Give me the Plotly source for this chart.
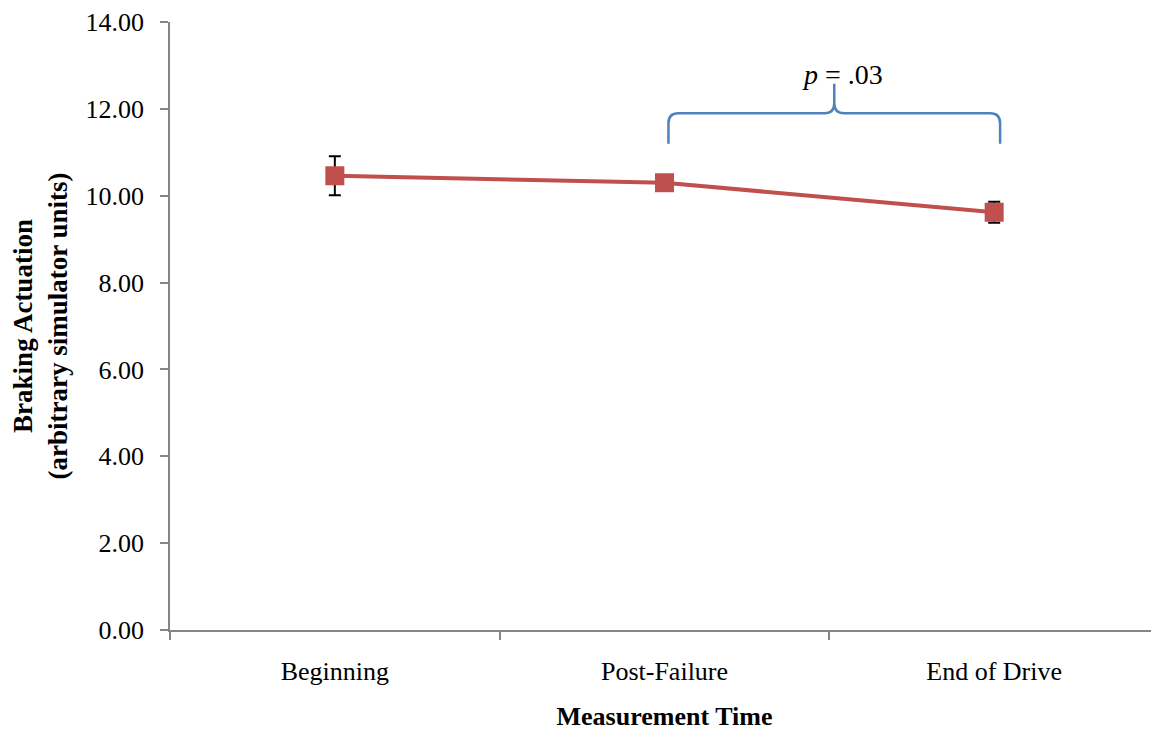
import plotly.graph_objects as go

categories = ["Beginning", "Post-Failure", "End of Drive"]
means = [10.46, 10.30, 9.62]
errors = [0.45, 0.08, 0.24]
y_ticks = [0, 2, 4, 6, 8, 10, 12, 14]
y_tick_labels = ["0.00", "2.00", "4.00", "6.00", "8.00", "10.00", "12.00", "14.00"]
p_label = "<i>p</i> = .03"

LINE_RED = "#C0504D"
BRACE_BLUE = "#4F81BD"
AXIS_GRAY = "#868686"
FONT = "Liberation Serif, Times New Roman, serif"

fig = go.Figure()
fig.add_trace(go.Scatter(
    x=categories, y=means,
    mode="lines+markers",
    line=dict(color=LINE_RED, width=4),
    marker=dict(symbol="square", size=19, color=LINE_RED),
    error_y=dict(type="data", array=errors, visible=True, color="black", thickness=2, width=6),
    showlegend=False,
))

# brace between Post-Failure and End of Drive (category indices 1 and 2)
x0, x1 = 1.012, 2.018
xm = (x0 + x1) / 2
y_end, y_h, y_peak = 11.2, 11.9, 12.58
dx, dy = 0.03, 0.23
path = (
    f"M {x0},{y_end} L {x0},{y_h-dy} Q {x0},{y_h} {x0+dx},{y_h} "
    f"L {xm-dx},{y_h} Q {xm},{y_h} {xm},{y_h+dy} L {xm},{y_peak} "
    f"M {xm},{y_h+dy} Q {xm},{y_h} {xm+dx},{y_h} "
    f"L {x1-dx},{y_h} Q {x1},{y_h} {x1},{y_h-dy} L {x1},{y_end}"
)
fig.add_shape(type="path", path=path, xref="x2", yref="y",
              line=dict(color=BRACE_BLUE, width=2.5))
fig.add_annotation(x=1.54, y=12.8, xref="x2", yref="y", text=p_label,
                   showarrow=False, font=dict(family=FONT, size=28, color="black"))

fig.update_layout(
    width=1151, height=730,
    margin=dict(l=162, r=0, t=12, b=108),
    plot_bgcolor="white", paper_bgcolor="white",
    font=dict(family=FONT, size=26, color="black"),
    xaxis=dict(
        type="category", tickson="boundaries", range=[-0.5, 2.5],
        showline=True, linecolor=AXIS_GRAY, linewidth=1.5,
        ticks="outside", ticklen=8, tickcolor=AXIS_GRAY, tickwidth=1.5,
        ticklabelstandoff=17, showgrid=False, zeroline=False,
        tickfont=dict(family=FONT, size=26),
        title=dict(text="<b>Measurement Time</b>", font=dict(family=FONT, size=26), standoff=22),
    ),
    xaxis2=dict(range=[-0.5, 2.5], overlaying="x", visible=False),
    yaxis=dict(
        range=[0, 14.001], tickvals=y_ticks, ticktext=y_tick_labels,
        ticklabeloverflow="allow",
        showline=True, linecolor=AXIS_GRAY, linewidth=1.5,
        ticks="outside", ticklen=8, tickcolor=AXIS_GRAY, tickwidth=1.5,
        ticklabelstandoff=11, showgrid=False, zeroline=False,
        tickfont=dict(family=FONT, size=26),
        title=dict(text="<b>Braking Actuation<br>(arbitrary simulator units)</b>",
                   font=dict(family=FONT, size=27), standoff=21),
    ),
)

fig.write_html("out.html")
